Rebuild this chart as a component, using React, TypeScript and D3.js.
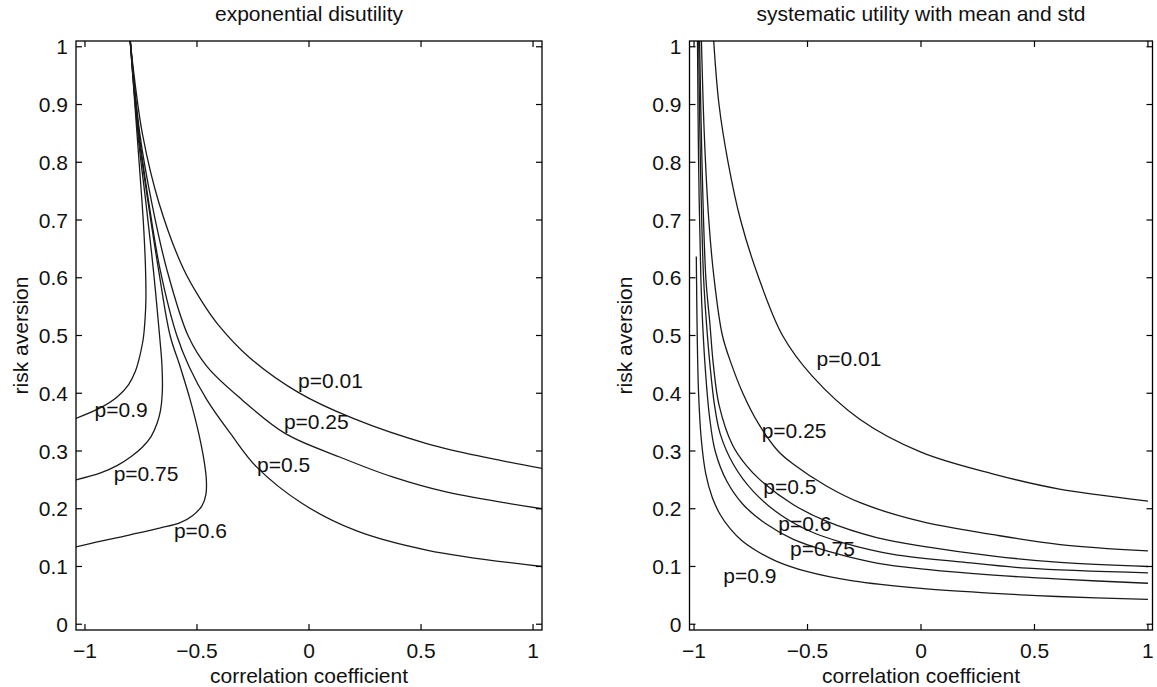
import React from "react";
import * as d3 from "d3";

// ---------- data ----------
const xTicks = [-1, -0.5, 0, 0.5, 1];
const yTicks = [0, 0.1, 0.2, 0.3, 0.4, 0.5, 0.6, 0.7, 0.8, 0.9, 1];
const seriesNames = ["p=0.01", "p=0.25", "p=0.5", "p=0.6", "p=0.75", "p=0.9"];

// Left panel: exponential disutility  [correlation, risk aversion]
const expP001: [number, number][] = [[-0.8, 1.02], [-0.784, 0.961], [-0.742, 0.846], [-0.67, 0.73], [-0.56, 0.615], [-0.48, 0.56], [-0.404, 0.518], [-0.266, 0.462], [-0.05, 0.402], [0.2, 0.356], [0.533, 0.312], [0.8, 0.288], [1.04, 0.27]];
const expP025: [number, number][] = [[-0.8, 1.02], [-0.754, 0.846], [-0.702, 0.73], [-0.635, 0.615], [-0.539, 0.499], [-0.455, 0.446], [-0.297, 0.388], [-0.105, 0.33], [0.134, 0.29], [0.373, 0.255], [0.612, 0.229], [1.04, 0.2]];
const expP05: [number, number][] = [[-0.8, 1.02], [-0.757, 0.846], [-0.715, 0.73], [-0.665, 0.615], [-0.59, 0.5], [-0.535, 0.446], [-0.455, 0.388], [-0.35, 0.33], [-0.233, 0.272], [-0.03, 0.209], [0.21, 0.162], [0.53, 0.128], [1.04, 0.1]];
const expP06: [number, number][] = [[-0.8, 1.02], [-0.76, 0.846], [-0.718, 0.73], [-0.672, 0.615], [-0.62, 0.5], [-0.575, 0.446], [-0.53, 0.388], [-0.492, 0.33], [-0.467, 0.28], [-0.458, 0.249], [-0.46, 0.225], [-0.478, 0.205], [-0.52, 0.188], [-0.58, 0.175], [-0.663, 0.167], [-0.76, 0.158], [-0.855, 0.15], [-0.95, 0.142], [-1.05, 0.133]];
const expP075: [number, number][] = [[-0.8, 1.02], [-0.763, 0.846], [-0.728, 0.73], [-0.695, 0.615], [-0.667, 0.5], [-0.656, 0.446], [-0.655, 0.4], [-0.663, 0.37], [-0.678, 0.348], [-0.705, 0.325], [-0.743, 0.307], [-0.795, 0.29], [-0.855, 0.275], [-0.93, 0.262], [-1.05, 0.249]];
const expP09: [number, number][] = [[-0.8, 1.02], [-0.767, 0.846], [-0.745, 0.73], [-0.737, 0.68], [-0.73, 0.62], [-0.728, 0.562], [-0.731, 0.533], [-0.738, 0.5], [-0.743, 0.487], [-0.758, 0.46], [-0.775, 0.438], [-0.805, 0.415], [-0.855, 0.394], [-0.93, 0.375], [-1.05, 0.355]];

// Right panel: systematic utility with mean and std
const sysP001: [number, number][] = [[-0.915, 1.02], [-0.89, 0.9], [-0.85, 0.8], [-0.795, 0.7], [-0.715, 0.6], [-0.61, 0.5], [-0.48, 0.43], [-0.27, 0.355], [0, 0.298], [0.32, 0.26], [0.61, 0.234], [1.0, 0.213]];
const sysP025: [number, number][] = [[-0.968, 1.02], [-0.955, 0.85], [-0.935, 0.7], [-0.912, 0.6], [-0.875, 0.5], [-0.835, 0.45], [-0.785, 0.4], [-0.72, 0.35], [-0.63, 0.3], [-0.562, 0.277], [-0.415, 0.239], [-0.265, 0.21], [0, 0.178], [0.32, 0.155], [0.613, 0.138], [1.0, 0.127]];
const sysP05: [number, number][] = [[-0.976, 1.02], [-0.965, 0.8], [-0.948, 0.6], [-0.93, 0.52], [-0.915, 0.45], [-0.89, 0.38], [-0.83, 0.31], [-0.77, 0.275], [-0.709, 0.25], [-0.562, 0.207], [-0.415, 0.178], [-0.195, 0.15], [0.025, 0.134], [0.32, 0.118], [0.613, 0.107], [1.0, 0.1]];
const sysP06: [number, number][] = [[-0.98, 1.02], [-0.972, 0.8], [-0.958, 0.6], [-0.945, 0.52], [-0.93, 0.45], [-0.91, 0.38], [-0.885, 0.33], [-0.827, 0.277], [-0.739, 0.23], [-0.621, 0.19], [-0.489, 0.161], [-0.342, 0.141], [-0.122, 0.121], [0.174, 0.108], [0.467, 0.097], [1.0, 0.089]];
const sysP075: [number, number][] = [[-0.985, 1.02], [-0.98, 0.8], [-0.97, 0.6], [-0.962, 0.52], [-0.95, 0.44], [-0.932, 0.36], [-0.907, 0.3], [-0.856, 0.248], [-0.783, 0.207], [-0.68, 0.173], [-0.562, 0.147], [-0.415, 0.127], [-0.195, 0.106], [0.025, 0.095], [0.32, 0.085], [0.613, 0.078], [1.0, 0.071]];
const sysP09: [number, number][] = [[-0.99, 0.637], [-0.986, 0.5], [-0.98, 0.4], [-0.968, 0.32], [-0.948, 0.26], [-0.92, 0.22], [-0.885, 0.19], [-0.84, 0.165], [-0.79, 0.145], [-0.72, 0.126], [-0.636, 0.109], [-0.5, 0.091], [-0.3, 0.075], [0, 0.062], [0.3, 0.054], [0.6, 0.048], [1.0, 0.043]];

// label anchor points [x, y] (data units, text baseline-left)
const expLabelPos: [number, number][] = [[-0.049, 0.409], [-0.112, 0.338], [-0.232, 0.263], [-0.603, 0.15], [-0.872, 0.248], [-0.957, 0.358]];
const sysLabelPos: [number, number][] = [[-0.46, 0.447], [-0.702, 0.323], [-0.695, 0.225], [-0.629, 0.161], [-0.577, 0.118], [-0.871, 0.072]];

const FONT = "'Liberation Sans', Arial, Helvetica, sans-serif";

type PanelProps = {
  id: string;
  title: string;
  left: number;
  right: number;
  xDomain: [number, number];
  series: [number, number][][];
  labels: [number, number][];
  yLabelX: number;
};

const TOP = 41;
const BOTTOM = 630;

function fmt(v: number): string {
  const s = d3.format("~g")(v);
  return s.replace("-", "\u2212");
}

function Panel({ id, title, left, right, xDomain, series, labels, yLabelX }: PanelProps) {
  const x = d3.scaleLinear().domain(xDomain).range([left, right]);
  const y = d3.scaleLinear().domain([-0.01, 1.01]).range([BOTTOM, TOP]);
  const line = d3
    .line<[number, number]>()
    .x((d) => x(d[0]))
    .y((d) => y(d[1]))
    .curve(d3.curveCatmullRom.alpha(0.5));
  const tl = 6;
  const cx = (left + right) / 2;
  return (
    <g>
      <defs>
        <clipPath id={`clip-${id}`}>
          <rect x={left} y={TOP} width={right - left} height={BOTTOM - TOP} />
        </clipPath>
      </defs>
      <g clipPath={`url(#clip-${id})`}>
        {series.map((s, i) => (
          <path key={i} d={line(s) || ""} fill="none" stroke="#1a1a1a" strokeWidth={1.3} />
        ))}
      </g>
      {labels.map((p, i) => (
        <text key={i} x={x(p[0])} y={y(p[1])} fontSize={21} fontFamily={FONT} fill="#111">
          {seriesNames[i]}
        </text>
      ))}
      {xTicks.map((t) => (
        <g key={`xt${t}`}>
          <line x1={x(t)} x2={x(t)} y1={BOTTOM} y2={BOTTOM - tl} stroke="#000" strokeWidth={1.2} />
          <line x1={x(t)} x2={x(t)} y1={TOP} y2={TOP + tl} stroke="#000" strokeWidth={1.2} />
          <text x={x(t)} y={658} textAnchor="middle" fontSize={21} fontFamily={FONT} fill="#111">
            {fmt(t)}
          </text>
        </g>
      ))}
      {yTicks.map((t) => (
        <g key={`yt${t}`}>
          <line x1={left} x2={left + tl} y1={y(t)} y2={y(t)} stroke="#000" strokeWidth={1.2} />
          <line x1={right} x2={right - tl} y1={y(t)} y2={y(t)} stroke="#000" strokeWidth={1.2} />
          <text x={left - 8} y={y(t)} dy="0.36em" textAnchor="end" fontSize={21} fontFamily={FONT} fill="#111">
            {fmt(t)}
          </text>
        </g>
      ))}
      <rect x={left} y={TOP} width={right - left} height={BOTTOM - TOP} fill="none" stroke="#000" strokeWidth={1.3} />
      <text x={cx} y={20.5} textAnchor="middle" fontSize={21} fontFamily={FONT} fill="#111">
        {title}
      </text>
      <text x={cx} y={683} textAnchor="middle" fontSize={21} fontFamily={FONT} fill="#111">
        correlation coefficient
      </text>
      <text
        transform={`translate(${yLabelX},${(TOP + BOTTOM) / 2}) rotate(-90)`}
        textAnchor="middle"
        fontSize={21}
        fontFamily={FONT}
        fill="#111"
      >
        risk aversion
      </text>
    </g>
  );
}

export default function App() {
  return (
    <svg
      width={1157}
      height={687}
      style={{ position: "absolute", left: 0, top: 0, background: "#fff" }}
      xmlns="http://www.w3.org/2000/svg"
    >
      <rect width={1157} height={687} fill="#fff" />
      <Panel
        id="exp"
        title="exponential disutility"
        left={76}
        right={542}
        xDomain={[-1.04, 1.04]}
        series={[expP001, expP025, expP05, expP06, expP075, expP09]}
        labels={expLabelPos}
        yLabelX={28}
      />
      <Panel
        id="sys"
        title="systematic utility with mean and std"
        left={689.5}
        right={1152.5}
        xDomain={[-1.02, 1.02]}
        series={[sysP001, sysP025, sysP05, sysP06, sysP075, sysP09]}
        labels={sysLabelPos}
        yLabelX={632}
      />
    </svg>
  );
}
